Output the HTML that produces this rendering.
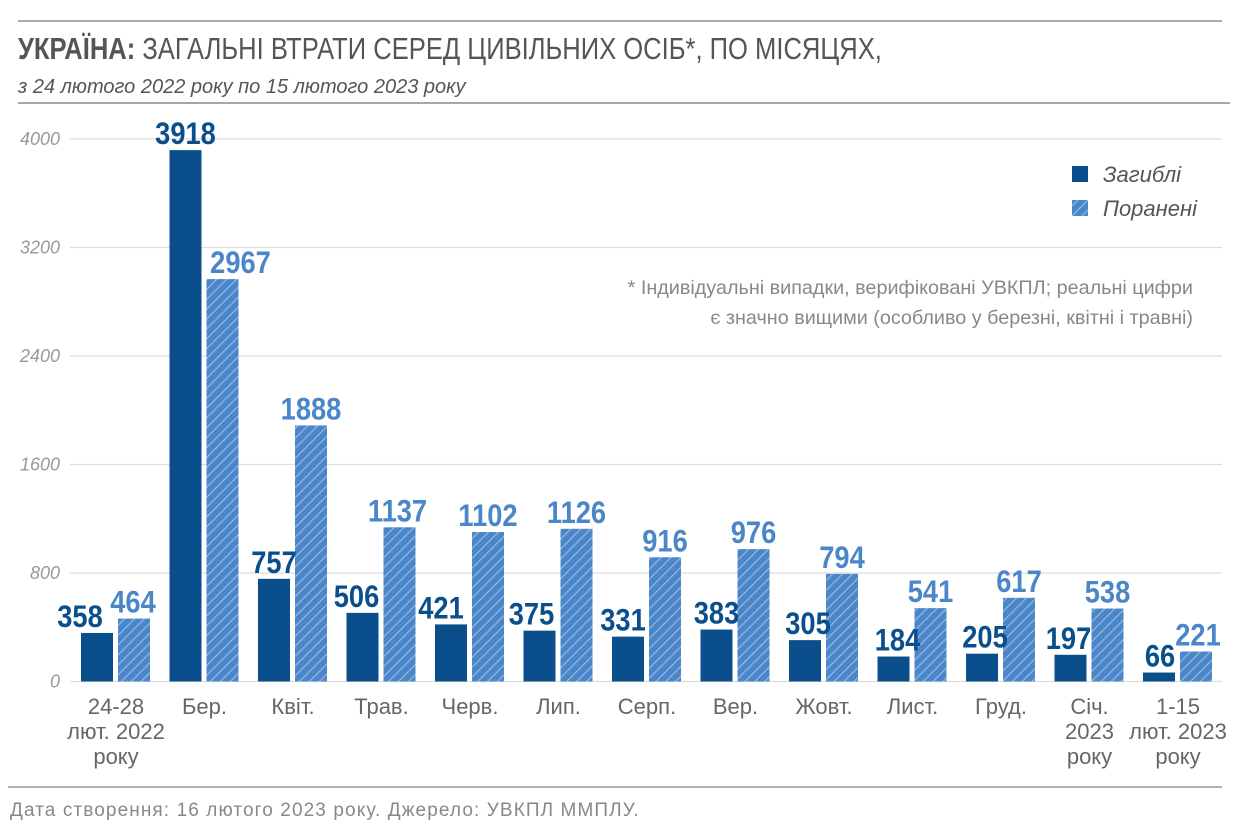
<!DOCTYPE html>
<html><head><meta charset="utf-8"><style>
body{margin:0;background:#fff;width:1256px;height:838px;overflow:hidden}
svg{display:block}
.n{font-family:"Liberation Sans Narrow","Liberation Sans",sans-serif}
</style></head><body>
<svg id="s" width="1256" height="838" xmlns="http://www.w3.org/2000/svg">
<defs>
<pattern id="h" patternUnits="userSpaceOnUse" width="7" height="7" patternTransform="rotate(45)">
<rect width="7" height="7" fill="#4a86c8"/><rect width="1.3" height="7" fill="#8fb6e2"/>
</pattern>
</defs>
<line x1="18" y1="21" x2="1222" y2="21" stroke="#aaa" stroke-width="2"/>
<text transform="translate(18,59) scale(0.825,1)" class="n" font-size="31" fill="#555"><tspan font-weight="bold">УКРАЇНА:</tspan> ЗАГАЛЬНІ ВТРАТИ СЕРЕД ЦИВІЛЬНИХ ОСІБ*, ПО МІСЯЦЯХ,</text>
<text x="18" y="93" class="n" font-size="20" font-style="italic" fill="#555">з 24 лютого 2022 року по 15 лютого 2023 року</text>
<line x1="18" y1="103" x2="1230" y2="103" stroke="#888" stroke-width="1.5"/>
<g id="grid"></g>
<g id="bars"></g>
<rect x="1072" y="166" width="16" height="16" fill="#0a4f8c"/>
<rect x="1072" y="200" width="16" height="16" fill="url(#h)"/>
<text x="1103" y="182" class="n" font-size="22" font-style="italic" fill="#555">Загиблі</text>
<text x="1103" y="216" class="n" font-size="22" font-style="italic" fill="#555">Поранені</text>
<text x="1193" y="294" text-anchor="end" class="n" font-size="19.8" fill="#888">* Індивідуальні випадки, верифіковані УВКПЛ; реальні цифри</text>
<text x="1193" y="324" text-anchor="end" class="n" font-size="19.8" fill="#888">є значно вищими (особливо у березні, квітні і травні)</text>
<line x1="8" y1="787" x2="1222" y2="787" stroke="#999" stroke-width="1.5"/>
<text x="10" y="816" class="n" font-size="19" letter-spacing="1.1" fill="#888">Дата створення: 16 лютого 2023 року.  Джерело: УВКПЛ ММПЛУ.</text>
</svg>
<script>
var ns="http://www.w3.org/2000/svg";
function el(p,t,a,txt){var e=document.createElementNS(ns,t);for(var k in a)e.setAttribute(k,a[k]);if(txt!=null)e.textContent=txt;p.appendChild(e);return e;}
var g=document.getElementById('grid'),b=document.getElementById('bars');
var y0=681.5,k=542.5/4000;
[0,800,1600,2400,3200,4000].forEach(function(v){var y=y0-v*k;
el(g,'line',{x1:70,x2:1222,y1:y,y2:y,stroke:'#ddd','stroke-width':1.3});
el(g,'text',{x:60,y:y+6,'text-anchor':'end','class':'n','font-size':18,'font-style':'italic',fill:'#999'},v);});
var d=[358,3918,757,506,421,375,331,383,305,184,205,197,66];
var w=[464,2967,1888,1137,1102,1126,916,976,794,541,617,538,221];
var od=[-17,0,0,-6,-10,-8,-5,0,3,4,3,-2,1];
var ow=[-1,18,0,-2,0,0,0,0,0,0,0,0,2];
var c=[["24-28","лют. 2022","року"],["Бер."],["Квіт."],["Трав."],["Черв."],["Лип."],["Серп."],["Вер."],["Жовт."],["Лист."],["Груд."],["Січ.","2023","року"],["1-15","лют. 2023","року"]];
for(var i=0;i<13;i++){var x=81+i*88.5;
var h1=d[i]*k,h2=w[i]*k;
el(b,'rect',{x:x,y:y0-h1,width:32,height:h1,fill:'#0a4f8c'});
el(b,'rect',{x:x+37,y:y0-h2,width:32,height:h2,fill:'url(#h)'});
el(b,'text',{transform:'translate('+(x+16+od[i])+','+(y0-h1-6)+') scale(0.94,1.08)','text-anchor':'middle','class':'n','font-size':29,'font-weight':'bold',fill:'#0a4f8c'},d[i]);
el(b,'text',{transform:'translate('+(x+53+ow[i])+','+(y0-h2-6)+') scale(0.94,1.08)','text-anchor':'middle','class':'n','font-size':29,'font-weight':'bold',fill:'#4a86c8'},w[i]);
c[i].forEach(function(s,j){el(b,'text',{x:x+35,y:714+j*25,'text-anchor':'middle','class':'n','font-size':22,fill:'#666'},s);});
}
</script>
</body></html>
